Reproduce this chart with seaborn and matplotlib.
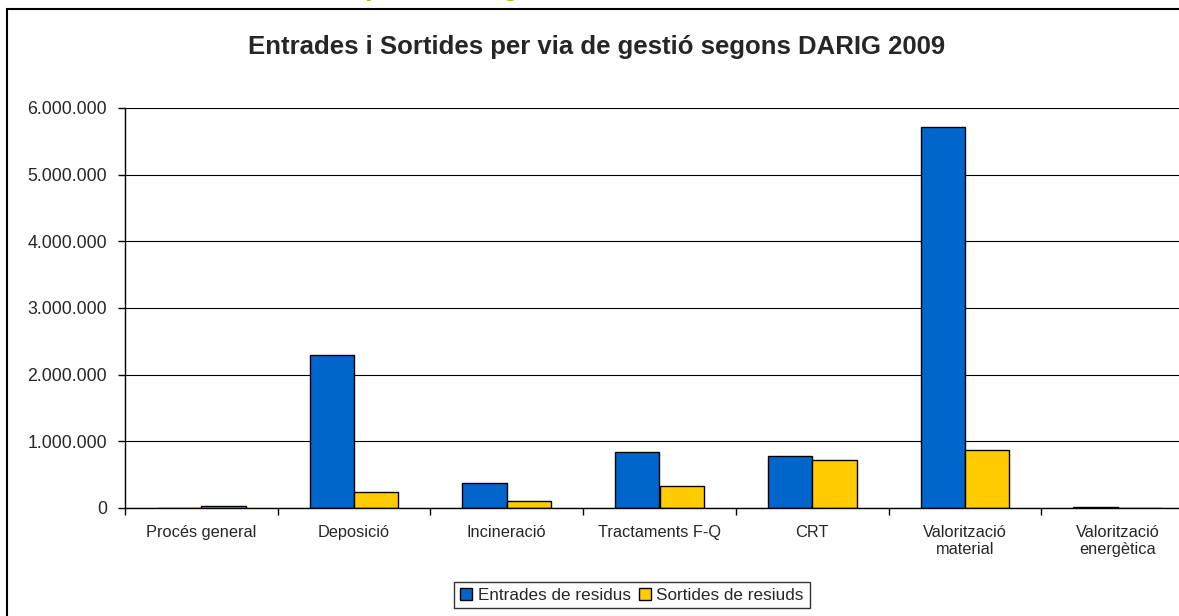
import pandas as pd
import seaborn as sns
import matplotlib.pyplot as plt
from matplotlib.patches import Rectangle
from matplotlib.ticker import FuncFormatter

# data
categories = ['Procés general', 'Deposició', 'Incineració', 'Tractaments F-Q',
              'CRT', 'Valorització\nmaterial', 'Valorització\nenergètica']
entrades = [0, 2300000, 370000, 835000, 775000, 5720000, 20000]
sortides = [25000, 235000, 110000, 330000, 715000, 875000, 0]
series_names = ['Entrades de residus', 'Sortides de resiuds']
colors = ['#0066CC', '#FFCC00']
yticks = [0, 1000000, 2000000, 3000000, 4000000, 5000000, 6000000]

df = pd.DataFrame({
    'via': categories * 2,
    'tones': entrades + sortides,
    'serie': [series_names[0]] * 7 + [series_names[1]] * 7,
})

sns.set_style('white')
plt.rcParams['font.family'] = ['Liberation Sans', 'DejaVu Sans']

fig = plt.figure(figsize=(11.79, 6.16), dpi=100)
W, H = 1179, 616
ax = fig.add_axes([125 / W, (H - 508) / H, (1194 - 125) / W, 400 / H])

sns.barplot(data=df, x='via', y='tones', hue='serie', palette=colors,
            width=0.58, gap=0, edgecolor='black', linewidth=1,
            saturation=1, ax=ax, errorbar=None)

ax.set_ylim(0, 6000000)
ax.set_xlim(-0.5, 6.5)
ax.set_yticks(yticks)
ax.yaxis.set_major_formatter(FuncFormatter(lambda v, p: f"{int(v):,}".replace(",", ".")))
ax.grid(axis='y', color='black', linewidth=0.8)
ax.set_axisbelow(True)

# category ticks between groups, labels centred
ax.set_xticks(range(7))
ax.set_xticklabels(categories)
ax.set_xticks([i - 0.5 for i in range(8)], minor=True)
ax.tick_params(axis='x', which='major', length=0, pad=12, labelsize=11.8)
ax.tick_params(axis='x', which='minor', length=5, width=1, color='black', direction='out', bottom=True)
ax.tick_params(axis='y', length=5, width=1, color='black', direction='out', left=True,
               pad=8, labelsize=12.8)

for s in ['top', 'right']:
    ax.spines[s].set_visible(False)
for s in ['left', 'bottom']:
    ax.spines[s].set_color('black')
    ax.spines[s].set_linewidth(1)

ax.set_xlabel('')
ax.set_ylabel('')

handles, labels = ax.get_legend_handles_labels()
ax.get_legend().remove()
fig.legend(handles, labels, loc='center', bbox_to_anchor=(632 / W, (H - 595) / H),
           ncol=2, frameon=True, fancybox=False, edgecolor='black', fontsize=12.3,
           handlelength=0.7, handleheight=0.7, handletextpad=0.3, columnspacing=0.5,
           borderpad=0.35)

fig.text(597 / W, (H - 47) / H, 'Entrades i Sortides per via de gestió segons DARIG 2009',
         ha='center', va='center', fontsize=18.5, fontweight='bold')

# outer chart frame
fig.patches.append(Rectangle((7 / W, -0.1), 1.2, (H - 9) / H + 0.1, transform=fig.transFigure,
                             fill=False, edgecolor='black', linewidth=1.5))

# heading above the frame, cut off by the image edge
fig.text(365 / W, 1 + 5 / H, 'per via de gestió', ha='left', va='baseline',
         fontsize=20, fontweight='bold', color='#99CC00')

plt.savefig('out.png', dpi=100)
